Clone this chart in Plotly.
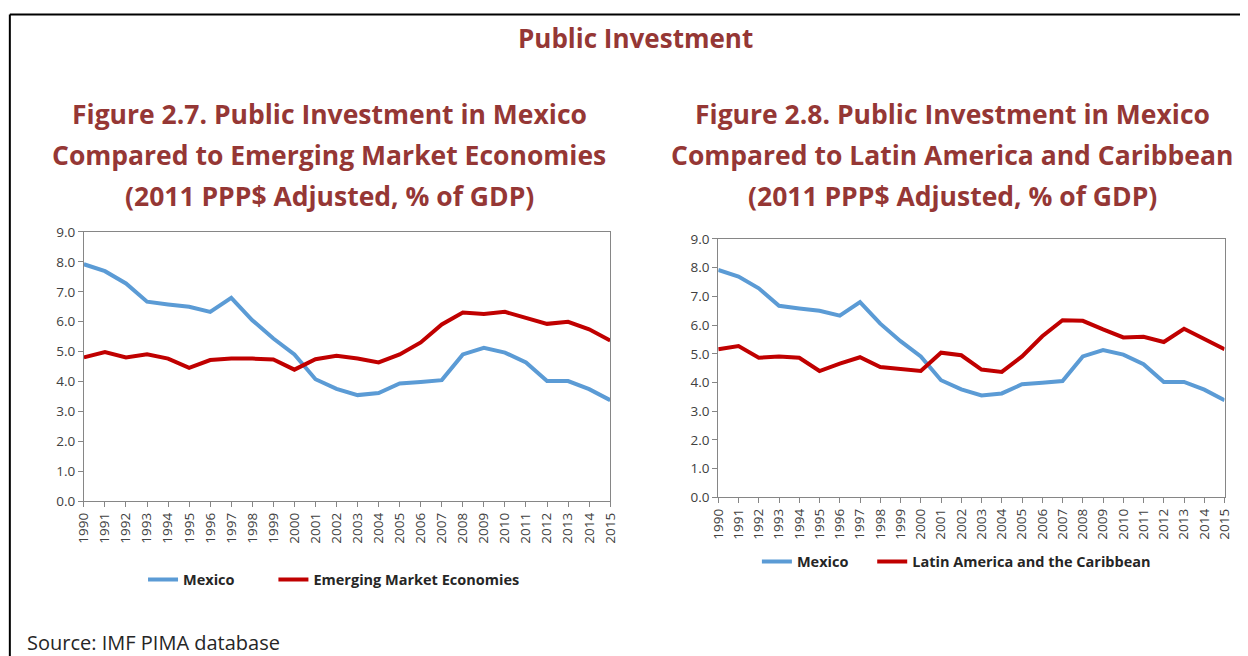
import plotly.graph_objects as go

years = [str(y) for y in range(1990, 2016)]

mexico = [7.92, 7.69, 7.28, 6.67, 6.58, 6.50, 6.33, 6.80, 6.05, 5.44, 4.91, 4.08, 3.76,
          3.55, 3.62, 3.94, 3.99, 4.05, 4.91, 5.13, 4.97, 4.64, 4.02, 4.02, 3.75, 3.38]
emerging = [4.81, 4.99, 4.81, 4.91, 4.77, 4.46, 4.72, 4.77, 4.77, 4.74, 4.40, 4.75, 4.86,
            4.77, 4.64, 4.91, 5.31, 5.91, 6.31, 6.26, 6.33, 6.13, 5.93, 6.00, 5.75, 5.37]
latam = [5.16, 5.27, 4.86, 4.91, 4.86, 4.40, 4.66, 4.88, 4.54, 4.48, 4.40, 5.04, 4.95,
         4.45, 4.37, 4.91, 5.61, 6.17, 6.15, 5.85, 5.57, 5.59, 5.41, 5.87, 5.53, 5.16]

title_left = ["Figure 2.7. Public Investment in Mexico",
              "Compared to Emerging Market Economies",
              "(2011 PPP$ Adjusted, % of GDP)"]
title_right = ["Figure 2.8. Public Investment in Mexico",
               "Compared to Latin America and Caribbean",
               "(2011 PPP$ Adjusted, % of GDP)"]

W, H = 1248, 656
BLUE = "#5B9BD5"
RED = "#C00000"
TITLE_RED = "#953735"
FONT = "Open Sans"
NBSP = "\u00a0"

# the page ends up shifted / slightly shrunk in the screenshot, compensate
OFF_X, SC_X = 18.15, 0.985
OFF_Y, SC_Y = 17.4, 0.971


def px_x(x):
    return (x - OFF_X) / SC_X / W


def px_y(y):
    return 1 - (y - OFF_Y) / SC_Y / H


fig = go.Figure()

# trailing nbsp's give the wider gap between legend entries seen in the Excel original
fig.add_trace(go.Scatter(x=years, y=mexico, name="Mexico" + NBSP * 9, mode="lines",
                         line=dict(color=BLUE, width=4), xaxis="x", yaxis="y", legend="legend"))
fig.add_trace(go.Scatter(x=years, y=emerging, name="Emerging Market Economies", mode="lines",
                         line=dict(color=RED, width=4), xaxis="x", yaxis="y", legend="legend"))
fig.add_trace(go.Scatter(x=years, y=mexico, name="Mexico" + NBSP * 5, mode="lines",
                         line=dict(color=BLUE, width=4), xaxis="x2", yaxis="y2", legend="legend2"))
fig.add_trace(go.Scatter(x=years, y=latam, name="Latin America and the Caribbean", mode="lines",
                         line=dict(color=RED, width=4), xaxis="x2", yaxis="y2", legend="legend2"))

axis_common = dict(showline=True, linecolor="#868686", linewidth=1, mirror=True,
                   ticks="outside", tickcolor="#868686", ticklen=5, showgrid=False,
                   zeroline=False, tickfont=dict(family=FONT, size=13.5, color="#404040"))
legend_font = dict(family=FONT, size=14.5, color="#262626", weight="bold")

fig.update_layout(
    width=W, height=H,
    margin=dict(l=0, r=0, t=0, b=0),
    paper_bgcolor="white", plot_bgcolor="white",
    font=dict(family=FONT, color="#404040"),
    xaxis=dict(domain=[px_x(84), px_x(610)], anchor="y", tickangle=-90, **axis_common),
    yaxis=dict(domain=[px_y(501), px_y(232)], anchor="x", range=[0, 9], dtick=1,
               tickformat=".1f", **axis_common),
    xaxis2=dict(domain=[px_x(718), px_x(1224)], anchor="y2", tickangle=-90, **axis_common),
    yaxis2=dict(domain=[px_y(497), px_y(239)], anchor="x2", range=[0, 9], dtick=1,
                tickformat=".1f", **axis_common),
    legend=dict(orientation="h", x=px_x(334), y=px_y(579), xanchor="center", yanchor="middle",
                font=legend_font, bgcolor="rgba(0,0,0,0)", itemwidth=30),
    legend2=dict(orientation="h", x=px_x(956), y=px_y(561), xanchor="center", yanchor="middle",
                 font=legend_font, bgcolor="rgba(0,0,0,0)", itemwidth=30),
)

# Outer frame
fig.add_shape(type="line", xref="paper", yref="paper", x0=px_x(10), x1=px_x(10),
              y0=px_y(15), y1=px_y(700), line=dict(color="black", width=2))
fig.add_shape(type="line", xref="paper", yref="paper", x0=px_x(10), x1=px_x(1260),
              y0=px_y(15), y1=px_y(15), line=dict(color="black", width=2))

fig.add_annotation(text="<b>Public Investment</b>", xref="paper", yref="paper",
                   x=px_x(635), y=px_y(38), showarrow=False, xanchor="center", yanchor="middle",
                   font=dict(family=FONT, size=26, color=TITLE_RED))

for cx, lines in [(329, title_left), (952, title_right)]:
    for i, line in enumerate(lines):
        fig.add_annotation(text=f"<b>{line}</b>", xref="paper", yref="paper",
                           x=px_x(cx), y=px_y(114 + 41 * i), showarrow=False,
                           xanchor="center", yanchor="middle",
                           font=dict(family=FONT, size=26.5, color=TITLE_RED))

fig.add_annotation(text="Source: IMF PIMA database", xref="paper", yref="paper",
                   x=px_x(25), y=px_y(642), showarrow=False, xanchor="left", yanchor="middle",
                   font=dict(family=FONT, size=20, color="#262626"))

fig.write_html("out.html")
